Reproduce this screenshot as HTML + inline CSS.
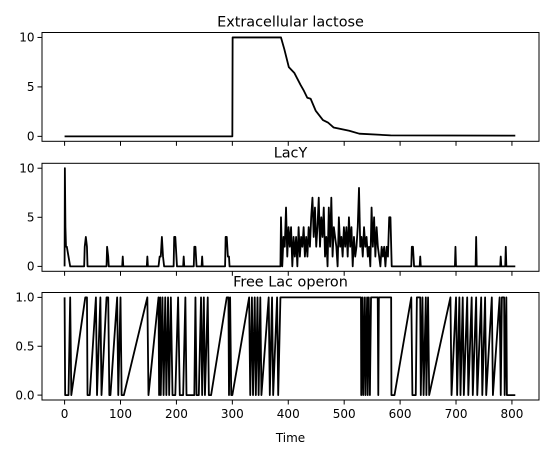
<!DOCTYPE html>
<html><head><meta charset="utf-8"><style>
html,body{margin:0;padding:0;background:#fff;}
svg{display:block;font-family:"DejaVu Sans","Liberation Sans",sans-serif;}
</style></head><body>
<svg id="chart" width="547" height="455" viewBox="0 0 547 455"></svg>
<script>
// ---- data ----
const lactoseTimes = [0,300,300.5,387,393,401,411,422,428,434,440,449,462,471,481,509,527,583,806];
const lactoseValues = [0,0,10,10,8.8,7,6.4,5.2,4.6,3.9,3.8,2.6,1.65,1.4,0.9,0.57,0.27,0.1,0.07];

const lacyTimes = [0,0.5,1.5,2.5,4,7,10,35,36,38,40,41,42,75,76,78,79,103,104,105,147,148,149,168,170,172,174,176,178,195,196,198,200,201,212,213,214,231,232,234,235,236,245,246,247,287,288,290,292,293,294,295,386];
const lacyValues = [0,10,4,2,2,1,0,0,2,3,2,0,0,0,2,1,0,0,1,0,0,1,0,0,1,1,3,1,0,0,3,3,1,0,0,1,0,0,2,2,1,0,0,1,0,0,3,3,1,1,1,0,0];
const clusterValues = [5,0,3,2,6,1,4,2,4,0,3,1,3,0,4,1,3,2,4,1,3,1,4,2,5,7,3,6,2,4,7,2,5,3,6,1,3,0,6,2,7,1,4,3,2,0,5,2,3,1,4,2,4,1,5,2,4,0,3,1,2,4,8,2,3,1,4,2,3,1,2,0,6,2,5,1,4,2,1,0,2,1,2,0,2,1,5,5,0];
const lacyTailTimes = [590,620,621,623,624,625,635,636,637,698,699,700,735,736,737,779,780,781,788,789,790,806];
const lacyTailValues = [0,0,2,2,1,0,0,1,0,0,2,0,0,3,0,0,1,0,0,2,0,0];

const operonPts = [[0,1],[1,0],[7,0],[10,1],[12,0],[37,1],[40,1],[41,0],[45,0],[56,1],[58,0],[64,1],[66,0],[75,1],[78,1],[80,0],[82,0],[94,1],[96,0],[100,1],[102,0],[106,0],[148,1],[150,0],[168,1],[169,0],[171,1],[172,0],[175,1],[177,0],[180,1],[182,0],[185,1],[187,0],[190,1],[193,0],[198,0],[203,1],[206,0],[212,0],[216,1],[218,0],[232,0],[234,1],[236,0],[240,0],[244,1],[246,0],[249,1],[251,0],[256,1],[258,0],[262,0],[290,1],[293,1],[294,0],[296,1],[298,0],[300,0],[330,1],[332,0],[335,1],[337,0],[340,1],[342,0],[345,1],[347,0],[350,1],[352,0],[365,1],[367,0],[371,1],[373,0],[380,1],[382,0],[386,1],[530,1],[530.5,0],[533,1],[534,0],[537,1],[538,0],[541,1],[542,0],[544,1],[546,0],[548,1],[560,1],[561,0],[562,1],[584,1],[584.5,0],[590,0],[620,1],[622,0],[628,0],[630,1],[636,1],[637,0],[640,1],[642,0],[646,1],[647,0],[650,1],[652,0],[690,1],[692,0],[700,1],[702,0],[706,1],[708,0],[712,1],[714,0],[720,1],[722,0],[728,1],[730,0],[736,1],[738,0],[745,1],[747,0],[752,1],[754,0],[764,1],[766,0],[778,1],[780,0],[782,1],[786,1],[787,0],[790,1],[791,0],[806,0]];

const xTicks = [0,100,200,300,400,500,600,700,800];
const yTicks1 = [0,5,10];
const yTicks2 = [0,5,10];
const yTicks3 = [0,0.5,1];
const yTickLabels3 = ['0.0','0.5','1.0'];

// ---- layout ----
const NS='http://www.w3.org/2000/svg';
const svg=document.getElementById('chart');
const L=42, R=539, xMin=-40.4, xMax=848.4;
const X=t=>L+(t-xMin)/(xMax-xMin)*(R-L);
function mk(tag,attrs,parent){const e=document.createElementNS(NS,tag);for(const k in attrs)e.setAttribute(k,attrs[k]);(parent||svg).appendChild(e);return e;}

function panel(name,top,bot,yMin,yMax,yt,ytl,title,pts,showXLabels){
  const g=mk('g',{});
  
  
  const Y=v=>bot-(v-yMin)/(yMax-yMin)*(bot-top);
  const d=pts.map((p,i)=>(i?'L':'M')+X(p[0]).toFixed(2)+','+Y(p[1]).toFixed(2)).join('');
  const line=mk('path',{d:d,fill:'none',stroke:'#000','stroke-width':1.8,'stroke-linejoin':'round'},g);
  
  
  const fr=mk('rect',{x:L,y:top,width:R-L,height:bot-top,fill:'none',stroke:'#000','stroke-width':1},g);
  
  
  yt.forEach((v,i)=>{
    const y=Y(v);
    mk('line',{x1:L-4.5,x2:L,y1:y,y2:y,stroke:'#000','stroke-width':1},g);
    const t=mk('text',{x:L-7.5,y:y+4.3,'text-anchor':'end','font-size':12},g);
    t.textContent=ytl?ytl[i]:String(v);
    
    
  });
  xTicks.forEach(v=>{
    const x=X(v);
    mk('line',{x1:x,x2:x,y1:bot,y2:bot+4.5,stroke:'#000','stroke-width':1},g);
    if(showXLabels){
      const t=mk('text',{x:x,y:bot+18,'text-anchor':'middle','font-size':12},g);
      t.textContent=String(v);
      
      
    }
  });
  const tt=mk('text',{x:(L+R)/2,y:top-6,'text-anchor':'middle','font-size':14.4},g);
  tt.textContent=title;
  
  
}

const p1=lactoseTimes.map((t,i)=>[t,lactoseValues[i]]);
let p2=lacyTimes.map((t,i)=>[t,lacyValues[i]]);
clusterValues.forEach((v,i)=>p2.push([387+i*2.25,v]));
p2=p2.concat(lacyTailTimes.map((t,i)=>[t,lacyTailValues[i]]));

panel('extracellular-lactose',32.5,141.3,-0.5,10.5,yTicks1,null,'Extracellular lactose',p1,false);
panel('lacy',163.3,271.3,-0.5,10.5,yTicks2,null,'LacY',p2,false);
panel('free-lac-operon',292.5,400,-0.05,1.05,yTicks3,yTickLabels3,'Free Lac operon',operonPts,true);

const xl=mk('text',{x:(L+R)/2,y:442,'text-anchor':'middle','font-size':12});
xl.textContent='Time';


</script>
</body></html>
